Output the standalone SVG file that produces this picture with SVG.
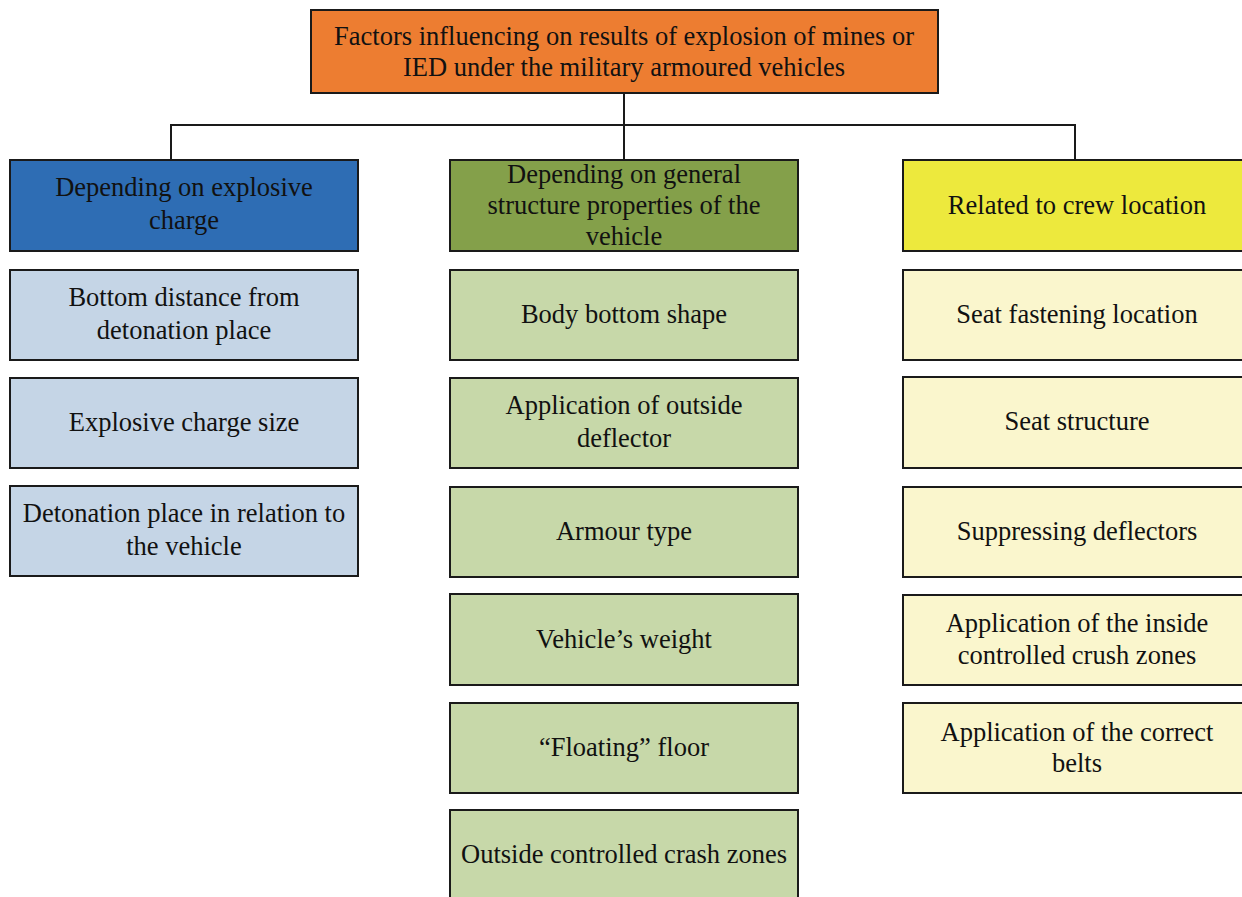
<svg xmlns="http://www.w3.org/2000/svg" width="1242" height="897" viewBox="0 0 1242 897">
<style>
rect{stroke:#1a1a1a;stroke-width:2}
text{font-family:"Liberation Serif","Times New Roman",serif;font-size:26.5px;fill:#111;text-anchor:middle}
.c{fill:none;stroke:#1a1a1a;stroke-width:2}
.or{fill:#ED7D31}.bl{fill:#2E6DB4}.gr{fill:#84A04A}.ye{fill:#EDE93D}
.lb{fill:#C5D5E6}.lg{fill:#C7D8A9}.ly{fill:#FAF6CD}
</style>
<rect width="1242" height="897" fill="#fff" style="stroke:none"/>
<g id="connectors">
<path class="c" d="M624 93V125M171 160V125H1075V160M624 125V160"/>
</g>
<g id="root"><rect class="or" x="311" y="10" width="627" height="83"/><text x="624" y="45">Factors influencing on results of explosion of mines or</text><text x="624" y="76">IED under the military armoured vehicles</text></g>
<g id="h1"><rect class="bl" x="10" y="160" width="348" height="91"/><text x="184" y="196">Depending on explosive</text><text x="184" y="229">charge</text></g>
<g id="h2"><rect class="gr" x="450" y="160" width="348" height="91"/><text x="624" y="183">Depending on general</text><text x="624" y="214">structure properties of the</text><text x="624" y="245">vehicle</text></g>
<g id="h3"><rect class="ye" x="903" y="160" width="348" height="91"/><text x="1077" y="214">Related to crew location</text></g>
<g id="l1"><rect class="lb" x="10" y="270" width="348" height="90"/><text x="184" y="306">Bottom distance from</text><text x="184" y="339">detonation place</text></g>
<g id="l2"><rect class="lb" x="10" y="378" width="348" height="90"/><text x="184" y="431">Explosive charge size</text></g>
<g id="l3"><rect class="lb" x="10" y="486" width="348" height="90"/><text x="184" y="522">Detonation place in relation to</text><text x="184" y="555">the vehicle</text></g>
<g id="m1"><rect class="lg" x="450" y="270" width="348" height="90"/><text x="624" y="323">Body bottom shape</text></g>
<g id="m2"><rect class="lg" x="450" y="378" width="348" height="90"/><text x="624" y="414">Application of outside</text><text x="624" y="447">deflector</text></g>
<g id="m3"><rect class="lg" x="450" y="487" width="348" height="90"/><text x="624" y="540">Armour type</text></g>
<g id="m4"><rect class="lg" x="450" y="594" width="348" height="91"/><text x="624" y="648">Vehicle’s weight</text></g>
<g id="m5"><rect class="lg" x="450" y="703" width="348" height="90"/><text x="624" y="756">“Floating” floor</text></g>
<g id="m6"><rect class="lg" x="450" y="810" width="348" height="100"/><text x="624" y="863">Outside controlled crash zones</text></g>
<g id="r1"><rect class="ly" x="903" y="270" width="348" height="90"/><text x="1077" y="323">Seat fastening location</text></g>
<g id="r2"><rect class="ly" x="903" y="377" width="348" height="91"/><text x="1077" y="430">Seat structure</text></g>
<g id="r3"><rect class="ly" x="903" y="487" width="348" height="90"/><text x="1077" y="540">Suppressing deflectors</text></g>
<g id="r4"><rect class="ly" x="903" y="595" width="348" height="90"/><text x="1077" y="632">Application of the inside</text><text x="1077" y="664">controlled crush zones</text></g>
<g id="r5"><rect class="ly" x="903" y="703" width="348" height="90"/><text x="1077" y="741">Application of the correct</text><text x="1077" y="772">belts</text></g>
</svg>
